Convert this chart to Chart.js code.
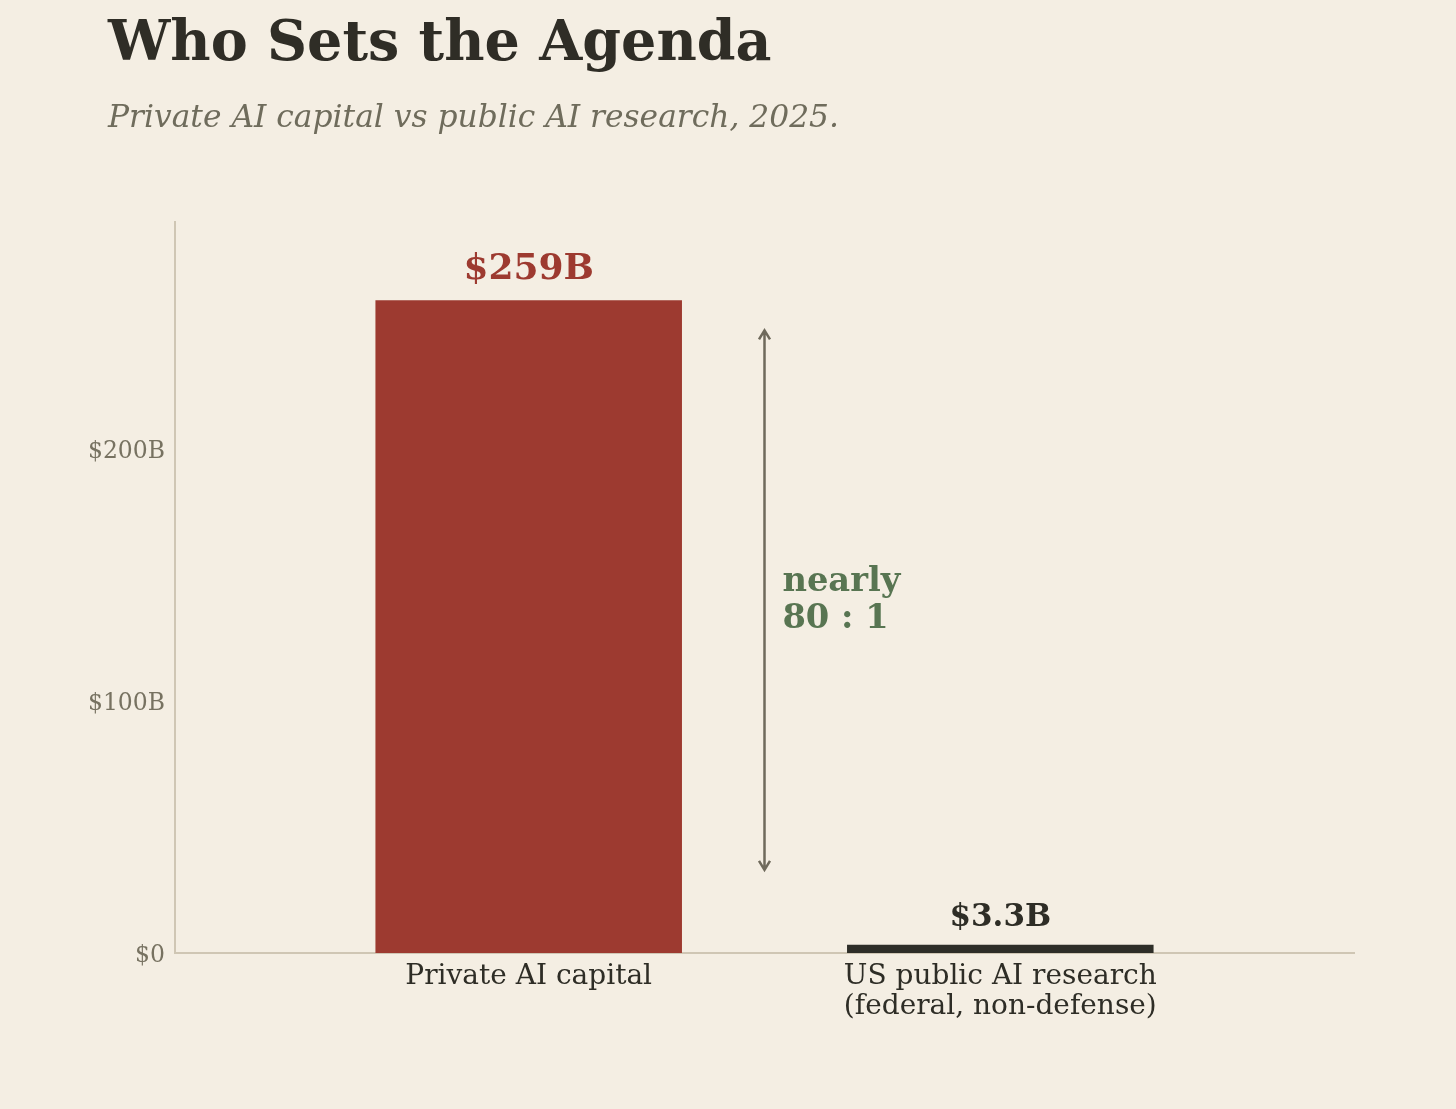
<!DOCTYPE html>
<html>
<head>
<meta charset="utf-8">
<script src="https://cdn.jsdelivr.net/npm/chart.js@4"></script>
<style>
  html, body { margin:0; padding:0; background:#f4eee3; }
  body { width:1456px; height:1109px; position:relative; overflow:hidden; }
  #title { position:absolute; left:108px; top:8px; font-family:"DejaVu Serif", serif; font-weight:bold; font-size:55.5px; color:#2f2d26; white-space:nowrap; }
  #subtitle { position:absolute; left:108px; top:98px; font-family:"DejaVu Serif", serif; font-style:italic; font-size:31.3px; color:#6f6c5c; white-space:nowrap; }
  #wrap { position:absolute; left:0; top:0; width:1456px; height:1109px; }
</style>
</head>
<body>
<div id="wrap"><canvas id="c" width="1456" height="1109"></canvas></div>
<div id="title">Who Sets the Agenda</div>
<div id="subtitle">Private AI capital vs public AI research, 2025.</div>
<script>
const categories = [["Private AI capital"], ["US public AI research", "(federal, non-defense)"]];
const values = [259, 3.3];
const valueLabels = ["$259B", "$3.3B"];
const barColors = ["#9d3a30", "#2e2e28"];
const labelColors = ["#9d3a30", "#2e2d26"];
const yTicks = [0, 100, 200];
const yTickLabels = ["$0", "$100B", "$200B"];
const ratioText = ["nearly", "80 : 1"];
const arrowRange = [33, 247];

const annot = {
  id: 'annot',
  afterDatasetsDraw(chart) {
    const ctx = chart.ctx, xs = chart.scales.x, ys = chart.scales.y;
    ctx.save();
    ctx.textAlign = 'center';
    ctx.textBaseline = 'bottom';
    values.forEach((v, i) => {
      ctx.font = 'bold ' + (i === 0 ? 36 : 31) + 'px "DejaVu Serif"';
      ctx.fillStyle = labelColors[i];
      ctx.fillText(valueLabels[i], xs.getPixelForValue(i), ys.getPixelForValue(v) - (i === 0 ? 13 : 11));
    });
    // arrow
    const ax = xs.getPixelForValue(0.5);
    const y1 = ys.getPixelForValue(arrowRange[1]);
    const y0 = ys.getPixelForValue(arrowRange[0]);
    ctx.strokeStyle = '#6f6a5c';
    ctx.lineWidth = 2.5;
    ctx.beginPath();
    ctx.moveTo(ax, y1); ctx.lineTo(ax, y0);
    ctx.moveTo(ax - 5.5, y1 + 9); ctx.lineTo(ax, y1); ctx.lineTo(ax + 5.5, y1 + 9);
    ctx.moveTo(ax - 5.5, y0 - 9); ctx.lineTo(ax, y0); ctx.lineTo(ax + 5.5, y0 - 9);
    ctx.stroke();
    // ratio text
    ctx.font = 'bold 33.7px "DejaVu Serif"';
    ctx.fillStyle = '#587552';
    ctx.textAlign = 'left';
    ctx.textBaseline = 'middle';
    const tx = xs.getPixelForValue(0.538);
    const ty = ys.getPixelForValue(140);
    ctx.fillText(ratioText[0], tx, ty - 18);
    ctx.fillText(ratioText[1], tx, ty + 19);
    ctx.restore();
  }
};

new Chart(document.getElementById('c'), {
  type: 'bar',
  data: {
    datasets: [{
      data: values.map((v, i) => ({ x: i, y: v })),
      backgroundColor: barColors,
      borderWidth: 0,
      barPercentage: 0.65,
      categoryPercentage: 1.0
    }]
  },
  options: {
    responsive: false,
    animation: false,
    devicePixelRatio: 1,
    layout: { padding: { left: 0, right: 102, top: 222, bottom: 0 } },
    plugins: { legend: { display: false }, tooltip: { enabled: false } },
    scales: {
      x: {
        type: 'linear',
        min: -0.75, max: 1.75,
        offset: false,
        grid: { display: false, drawTicks: false },
        border: { display: true, color: '#cfc6b4', width: 2 },
        afterBuildTicks(s) { s.ticks = categories.map((c, i) => ({ value: i })); },
        afterFit(s) { s.height = 156; },
        ticks: {
          autoSkip: false,
          maxRotation: 0,
          padding: 9,
          color: '#2e2d26',
          font: { family: '"DejaVu Serif"', size: 28, lineHeight: 1.07 },
          callback: (v) => categories[v]
        }
      },
      y: {
        min: 0, max: 290,
        grid: { display: false, drawTicks: false },
        border: { display: true, color: '#cfc6b4', width: 2 },
        afterBuildTicks(s) { s.ticks = yTicks.map(v => ({ value: v })); },
        afterFit(s) { s.width = 175; },
        ticks: {
          padding: 10,
          labelOffset: 3,
          color: '#777261',
          font: { family: '"DejaVu Serif"', size: 23.5 },
          callback: (v) => yTickLabels[yTicks.indexOf(v)]
        }
      }
    }
  },
  plugins: [annot]
});
</script>
</body>
</html>
